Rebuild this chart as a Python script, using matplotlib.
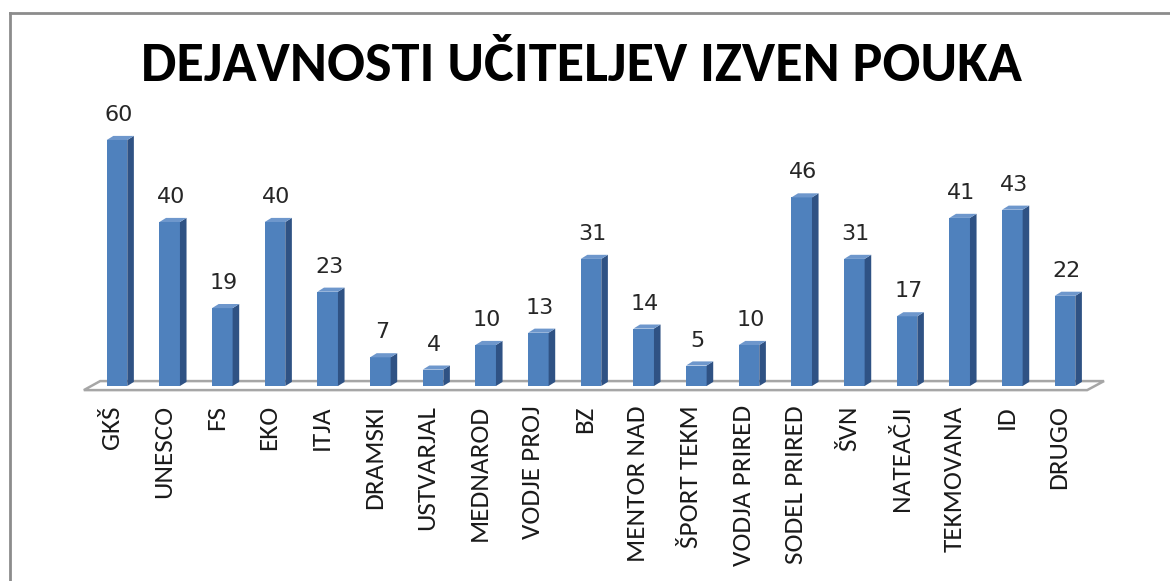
import matplotlib.pyplot as plt
import matplotlib.transforms as mtransforms
from matplotlib.patches import Polygon
from matplotlib.lines import Line2D

# podatki
kategorije = ['GKŠ', 'UNESCO', 'FS', 'EKO', 'ITJA', 'DRAMSKI', 'USTVARJAL', 'MEDNAROD',
              'VODJE PROJ', 'BZ', 'MENTOR NAD', 'ŠPORT TEKM', 'VODJA PRIRED',
              'SODEL PRIRED', 'ŠVN', 'NATEAČJI', 'TEKMOVANA', 'ID', 'DRUGO']
vrednosti = [60, 40, 19, 40, 23, 7, 4, 10, 13, 31, 14, 5, 10, 46, 31, 17, 41, 43, 22]
naslov = 'DEJAVNOSTI UČITELJEV IZVEN POUKA'

calibri = ['Carlito', 'Open Sans Condensed', 'DejaVu Sans']
front_col = '#4F81BD'
side_col = '#2F5284'
top_col = '#6E97CC'

fig = plt.figure(figsize=(11.7, 5.81), dpi=100)
ax = fig.add_axes([0.073, 0.3215, 0.8643, 0.4728])
ax.set_xlim(-0.6, 18.6)
ax.set_ylim(-2, 65)
ax.axis('off')

# tla (floor)
n = len(kategorije)
floor = Polygon([(-0.63, -1.0), (n - 0.58, -1.0), (n - 0.26, 1.2), (-0.32, 1.2)],
                closed=True, facecolor='white', edgecolor='#A6A6A6', lw=1.8,
                clip_on=False, zorder=1)
ax.add_patch(floor)

w = 0.39      # sirina sprednje ploskve
dx = 0.125    # globina v x
dy = 1.0      # globina v y
x = list(range(n))
ax.bar(x, vrednosti, width=w, color=front_col, zorder=3)
for xi, v in zip(x, vrednosti):
    side = Polygon([(xi + w / 2, 0), (xi + w / 2 + dx, dy), (xi + w / 2 + dx, v + dy),
                    (xi + w / 2, v)], closed=True, facecolor=side_col, edgecolor='none',
                   zorder=3, clip_on=False)
    top = Polygon([(xi - w / 2, v), (xi + w / 2, v), (xi + w / 2 + dx, v + dy),
                   (xi - w / 2 + dx, v + dy)], closed=True, facecolor=top_col,
                  edgecolor='none', zorder=3, clip_on=False)
    ax.add_patch(side)
    ax.add_patch(top)
    ax.annotate(str(v), (xi, v), xytext=(1, 18), textcoords='offset points',
                ha='center', va='center', fontsize=16, color='#262626',
                family='DejaVu Sans')

# oznake kategorij (malo levo od stolpcev, kot v izvirniku)
odmik = mtransforms.ScaledTranslation(-6 / 100, -11 / 100, fig.dpi_scale_trans)
for xi, lab in zip(x, kategorije):
    ax.text(xi, -2, lab, rotation=90, ha='center', va='top', fontsize=19.5,
            family=calibri, color='#1a1a1a', clip_on=False,
            transform=ax.transData + odmik)

fig.text(0.497, 0.887, naslov, ha='center', va='center', fontsize=40.5,
         fontweight='bold', family=calibri, color='black')

# okvir
bx = 10 / 1170
by = 1 - 13 / 581
fig.add_artist(Line2D([bx, bx], [0, by], transform=fig.transFigure, color='#8C8C8C', lw=2))
fig.add_artist(Line2D([bx, 1], [by, by], transform=fig.transFigure, color='#8C8C8C', lw=2))

fig.savefig('out.png', dpi=100)
